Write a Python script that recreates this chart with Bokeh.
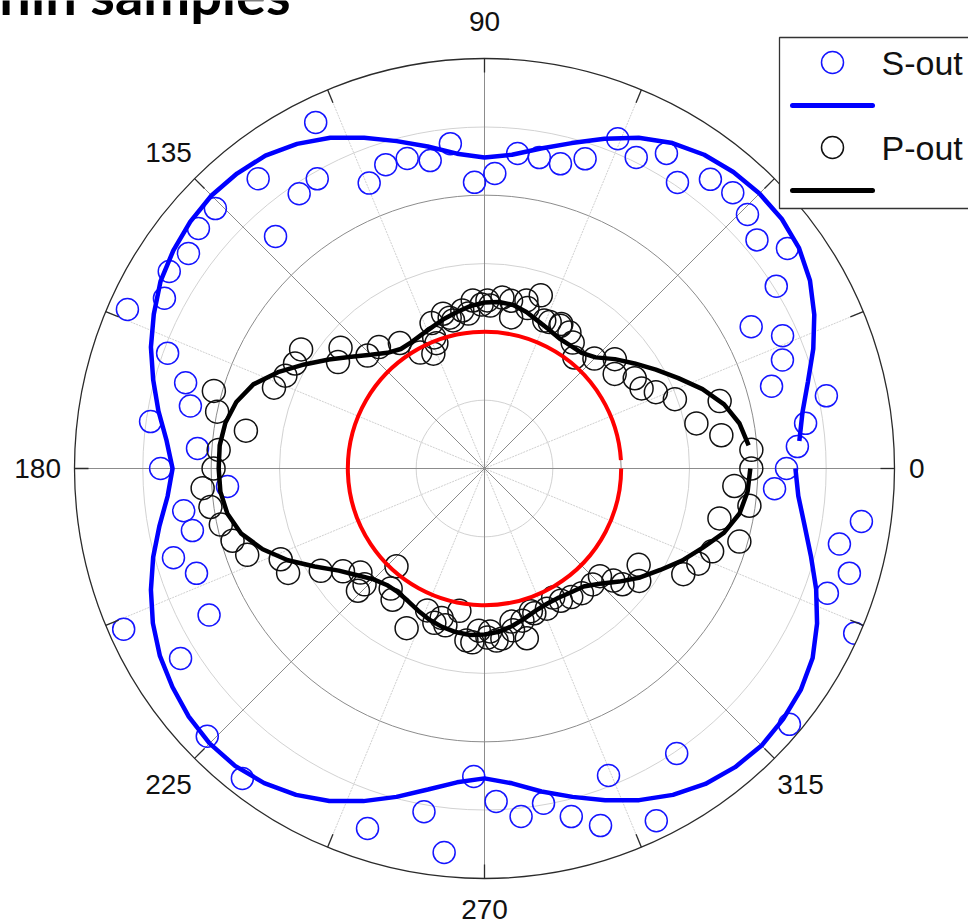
import numpy as np
from bokeh.plotting import figure
from bokeh.models import Range1d
from bokeh.core.properties import value
from bokeh.embed import file_html
from bokeh.resources import INLINE

# ---------------- data (angles in degrees, radii in normalised intensity) ----------------
R_MAX = 1.2
REF_R = 0.4                      # isotropic reference ring

fit_angle = list(range(5, 365, 5))
s_fit_r = [0.925, 0.945, 0.980, 1.024, 1.065, 1.100, 1.124, 1.136, 1.138, 1.133, 1.121, 1.100,
           1.068, 1.027, 0.986, 0.951, 0.922, 0.910, 0.925, 0.957, 0.992, 1.030, 1.068, 1.097,
           1.118, 1.127, 1.130, 1.124, 1.112, 1.095, 1.068, 1.039, 1.004, 0.969, 0.934, 0.913,
           0.931, 0.966, 1.004, 1.039, 1.071, 1.097, 1.115, 1.130, 1.138, 1.136, 1.124, 1.103,
           1.074, 1.036, 0.995, 0.954, 0.922, 0.907, 0.925, 0.960, 0.995, 1.033, 1.071, 1.103,
           1.127, 1.141, 1.147, 1.141, 1.130, 1.109, 1.074, 1.033, 0.989, 0.951, 0.922, 0.910]
p_fit_r = [0.776, 0.758, 0.726, 0.679, 0.626, 0.579, 0.536, 0.498, 0.460, 0.442, 0.439, 0.439,
           0.448, 0.459, 0.474, 0.486, 0.489, 0.486, 0.477, 0.465, 0.454, 0.442, 0.433, 0.427,
           0.427, 0.442, 0.471, 0.509, 0.556, 0.609, 0.667, 0.720, 0.752, 0.770, 0.778, 0.778,
           0.776, 0.764, 0.737, 0.691, 0.635, 0.574, 0.521, 0.486, 0.459, 0.445, 0.442, 0.448,
           0.459, 0.471, 0.480, 0.486, 0.489, 0.486, 0.480, 0.468, 0.454, 0.442, 0.436, 0.436,
           0.442, 0.451, 0.477, 0.515, 0.556, 0.594, 0.638, 0.679, 0.726, 0.758, 0.773, 0.778]

s_angle = [0, 4, 8, 12, 16, 20, 24, 28, 32, 36, 40, 44, 48, 52, 56, 60, 64, 68, 72, 76, 80, 84,
           88, 92, 96, 100, 104, 108, 112, 116, 120, 124, 128, 132, 136, 140, 144, 148, 152, 156,
           160, 164, 168, 172, 176, 180, 184, 188, 192, 196, 200, 204, 208, 212, 224, 232, 252,
           260, 264, 268, 272, 276, 280, 284, 288, 292, 296, 304, 320, 336, 340, 344, 348, 352, 356]
s_r = [0.884, 0.918, 0.949, 1.023, 0.874, 0.928, 0.955, 0.884, 1.007, 1.096, 1.041, 1.070,
       1.086, 1.074, 1.010, 1.065, 1.013, 1.041, 0.953, 0.919, 0.924, 0.927, 0.864, 0.838,
       0.956, 0.915, 0.935, 0.935, 0.901, 1.127, 0.979, 0.970, 1.076, 0.914, 1.095, 1.093,
       1.071, 1.088, 1.061, 1.144, 0.987, 0.910, 0.880, 0.987, 0.842, 0.948, 0.754, 0.889,
       0.874, 0.947, 0.897, 1.156, 0.913, 1.049, 1.128, 1.151, 1.108, 1.020, 1.130, 0.902,
       0.975, 1.024, 0.995, 1.050, 1.099, 0.969, 1.147, 1.006, 1.165, 1.186, 1.068, 1.111,
       1.062, 1.114, 0.851]

p_angle = [0, 4, 8, 12, 16, 20, 24, 27, 31, 36, 40, 45, 51, 55, 58, 62, 62, 66, 68, 72, 75, 76,
           80, 81, 84, 88, 89, 91, 94, 96, 98, 102, 103, 105, 110, 111, 111, 114, 119, 124, 131,
           136, 140, 144, 147, 151, 155, 159, 164, 168, 171, 176, 180, 184, 188, 192, 196, 200,
           204, 208, 212, 216, 220, 224, 224, 228, 232, 235, 244, 248, 252, 254, 256, 260, 264,
           266, 268, 271, 272, 274, 276, 280, 280, 284, 284, 288, 289, 294, 298, 300, 304, 308,
           313, 317, 319, 320, 324, 328, 332, 336, 340, 344, 348, 352, 356]
p_r = [0.781, 0.783, 0.700, 0.634, 0.716, 0.593, 0.549, 0.516, 0.513, 0.471, 0.498, 0.455,
       0.418, 0.450, 0.469, 0.473, 0.479, 0.469, 0.467, 0.533, 0.486, 0.507, 0.449, 0.497,
       0.503, 0.477, 0.492, 0.480, 0.493, 0.456, 0.467, 0.443, 0.453, 0.469, 0.453, 0.411,
       0.393, 0.368, 0.388, 0.443, 0.471, 0.476, 0.550, 0.530, 0.640, 0.634, 0.643, 0.660,
       0.824, 0.800, 0.707, 0.780, 0.793, 0.827, 0.810, 0.789, 0.767, 0.739, 0.653, 0.651,
       0.565, 0.512, 0.474, 0.515, 0.488, 0.385, 0.446, 0.469, 0.520, 0.448, 0.475, 0.455,
       0.473, 0.423, 0.506, 0.510, 0.475, 0.495, 0.477, 0.505, 0.500, 0.481, 0.455, 0.459,
       0.512, 0.439, 0.448, 0.449, 0.428, 0.447, 0.454, 0.463, 0.464, 0.462, 0.500, 0.527,
       0.560, 0.532, 0.659, 0.685, 0.709, 0.776, 0.703, 0.783, 0.733]

angle_ticks = [0, 45, 90, 135, 180, 225, 270, 315]
angle_tick_labels = ["0", "45", "90", "135", "180", "225", "270", "315"]
legend_labels = ["S-out", "P-out"]
title_text = "thin samples"


def polar(theta_deg, r):
    t = np.radians(np.asarray(theta_deg, dtype=float))
    r = np.asarray(r, dtype=float)
    return r * np.cos(t), r * np.sin(t)


# ---------------- canvas: 968 x 920 px, pole at pixel (484, 468) ----------------
W, H = 968, 920
CX, CY = 484, 468
PX = 410 / R_MAX                 # pixels per radial unit


def at_px(x, y):
    """Canvas pixel position -> data coordinates (for layout elements only)."""
    return (x - CX) / PX, (CY - y) / PX


p = figure(width=W, height=H, output_backend="svg", toolbar_location=None,
           x_range=Range1d(-CX / PX, (W - CX) / PX),
           y_range=Range1d(-(H - CY) / PX, CY / PX),
           x_axis_location=None, y_axis_location=None, min_border=0)
p.grid.visible = False
p.outline_line_color = None
p.background_fill_color = "white"
p.border_fill_color = "white"

# ---- grid: rings ----
ring_r = [R_MAX * k / 6 for k in range(1, 6)]
for k, rr in enumerate(ring_r, start=1):
    dark = k in (2, 4)
    p.circle(x=0, y=0, radius=rr, fill_color=None,
             line_color="#8c8c8c" if dark else "#d2d2d2", line_width=1)

# ---- grid: spokes ----
minor = np.arange(22.5, 360, 45.0)
mx, my = polar(minor, [R_MAX] * len(minor))
p.segment(x0=0, y0=0, x1=mx, y1=my, line_color="#d0d0d0", line_width=1, line_dash="2 1")
major = np.arange(0, 360, 45.0)
Mx, My = polar(major, [R_MAX] * len(major))
p.segment(x0=0, y0=0, x1=Mx, y1=My, line_color="#8c8c8c", line_width=1)

# ---- S-out ----
p.scatter(*polar(s_angle, s_r), marker="circle", size=22, fill_color=None,
          line_color="#1515ff", line_width=1.5)
sx, sy = polar(fit_angle, s_fit_r)
p.line(sx, sy, line_color="#0000ff", line_width=4.5)

# ---- P-out ----
p.scatter(*polar(p_angle, p_r), marker="circle", size=23, fill_color=None,
          line_color="#111111", line_width=1.5)
qx, qy = polar(fit_angle, p_fit_r)
p.line(qx, qy, line_color="#000000", line_width=4.5)

# ---- reference ring ----
p.arc(x=0, y=0, radius=REF_R, start_angle=np.radians(3.5), end_angle=np.radians(360),
      direction="anticlock", line_color="#ff0000", line_width=4)

# ---- clip everything outside the polar disc ----
p.annulus(x=0, y=0, inner_radius=R_MAX, outer_radius=4 * R_MAX,
          fill_color="white", line_color=None)

# ---- outer frame and angular ticks ----
p.circle(x=0, y=0, radius=R_MAX, fill_color=None, line_color="#2b2b2b", line_width=1.3)
tick_ang = np.arange(0, 360, 22.5)
t0x, t0y = polar(tick_ang, [R_MAX] * len(tick_ang))
t1x, t1y = polar(tick_ang, [R_MAX - 14 / PX] * len(tick_ang))
p.segment(x0=t0x, y0=t0y, x1=t1x, y1=t1y, line_color="#2b2b2b", line_width=1.3)

label_radius = {0: 1.265, 270: 1.29}
lab_r = [label_radius.get(a, 1.308) for a in angle_ticks]
lx, ly = polar(angle_ticks, lab_r)
p.text(x=lx, y=ly, text=angle_tick_labels, text_font=value("Liberation Sans"),
       text_font_size="28px", text_color="#111111", text_align="center",
       text_baseline="middle")

# ---- heading (runs off the top of the page) ----
tx, ty = at_px(290, -7)
p.text(x=[tx], y=[ty], text=[title_text], text_font=value("Lato"),
       text_font_style="bold", text_font_size="56px", text_color="#000000",
       text_align="right", text_baseline="alphabetic")

# ---- legend ----
bl, bt = at_px(779, 37)
br, bb = at_px(1010, 208)
p.quad(left=bl, right=br, top=bt, bottom=bb, fill_color="white",
       line_color="#333333", line_width=1.3)
row_y = [62, 105, 147, 190]
mkx, mky0 = at_px(832, row_y[0])
_, mky1 = at_px(832, row_y[2])
p.scatter(x=[mkx], y=[mky0], marker="circle", size=22, fill_color=None,
          line_color="#1515ff", line_width=1.5)
p.scatter(x=[mkx], y=[mky1], marker="circle", size=22, fill_color=None,
          line_color="#111111", line_width=1.5)
lx0, ly1 = at_px(792, row_y[1])
lx1, ly3 = at_px(872, row_y[3])
p.line([lx0, lx1], [ly1, ly1], line_color="#0000ff", line_width=5, line_cap="round")
p.line([lx0, lx1], [ly3, ly3], line_color="#000000", line_width=5, line_cap="round")
txx, ty0 = at_px(881, row_y[0])
_, ty2 = at_px(881, row_y[2])
p.text(x=[txx, txx], y=[ty0, ty2], text=legend_labels, text_font=value("Liberation Sans"),
       text_font_size="34px", text_color="#111111", text_align="left",
       text_baseline="middle")

open("out.html", "w").write(file_html(p, INLINE))
